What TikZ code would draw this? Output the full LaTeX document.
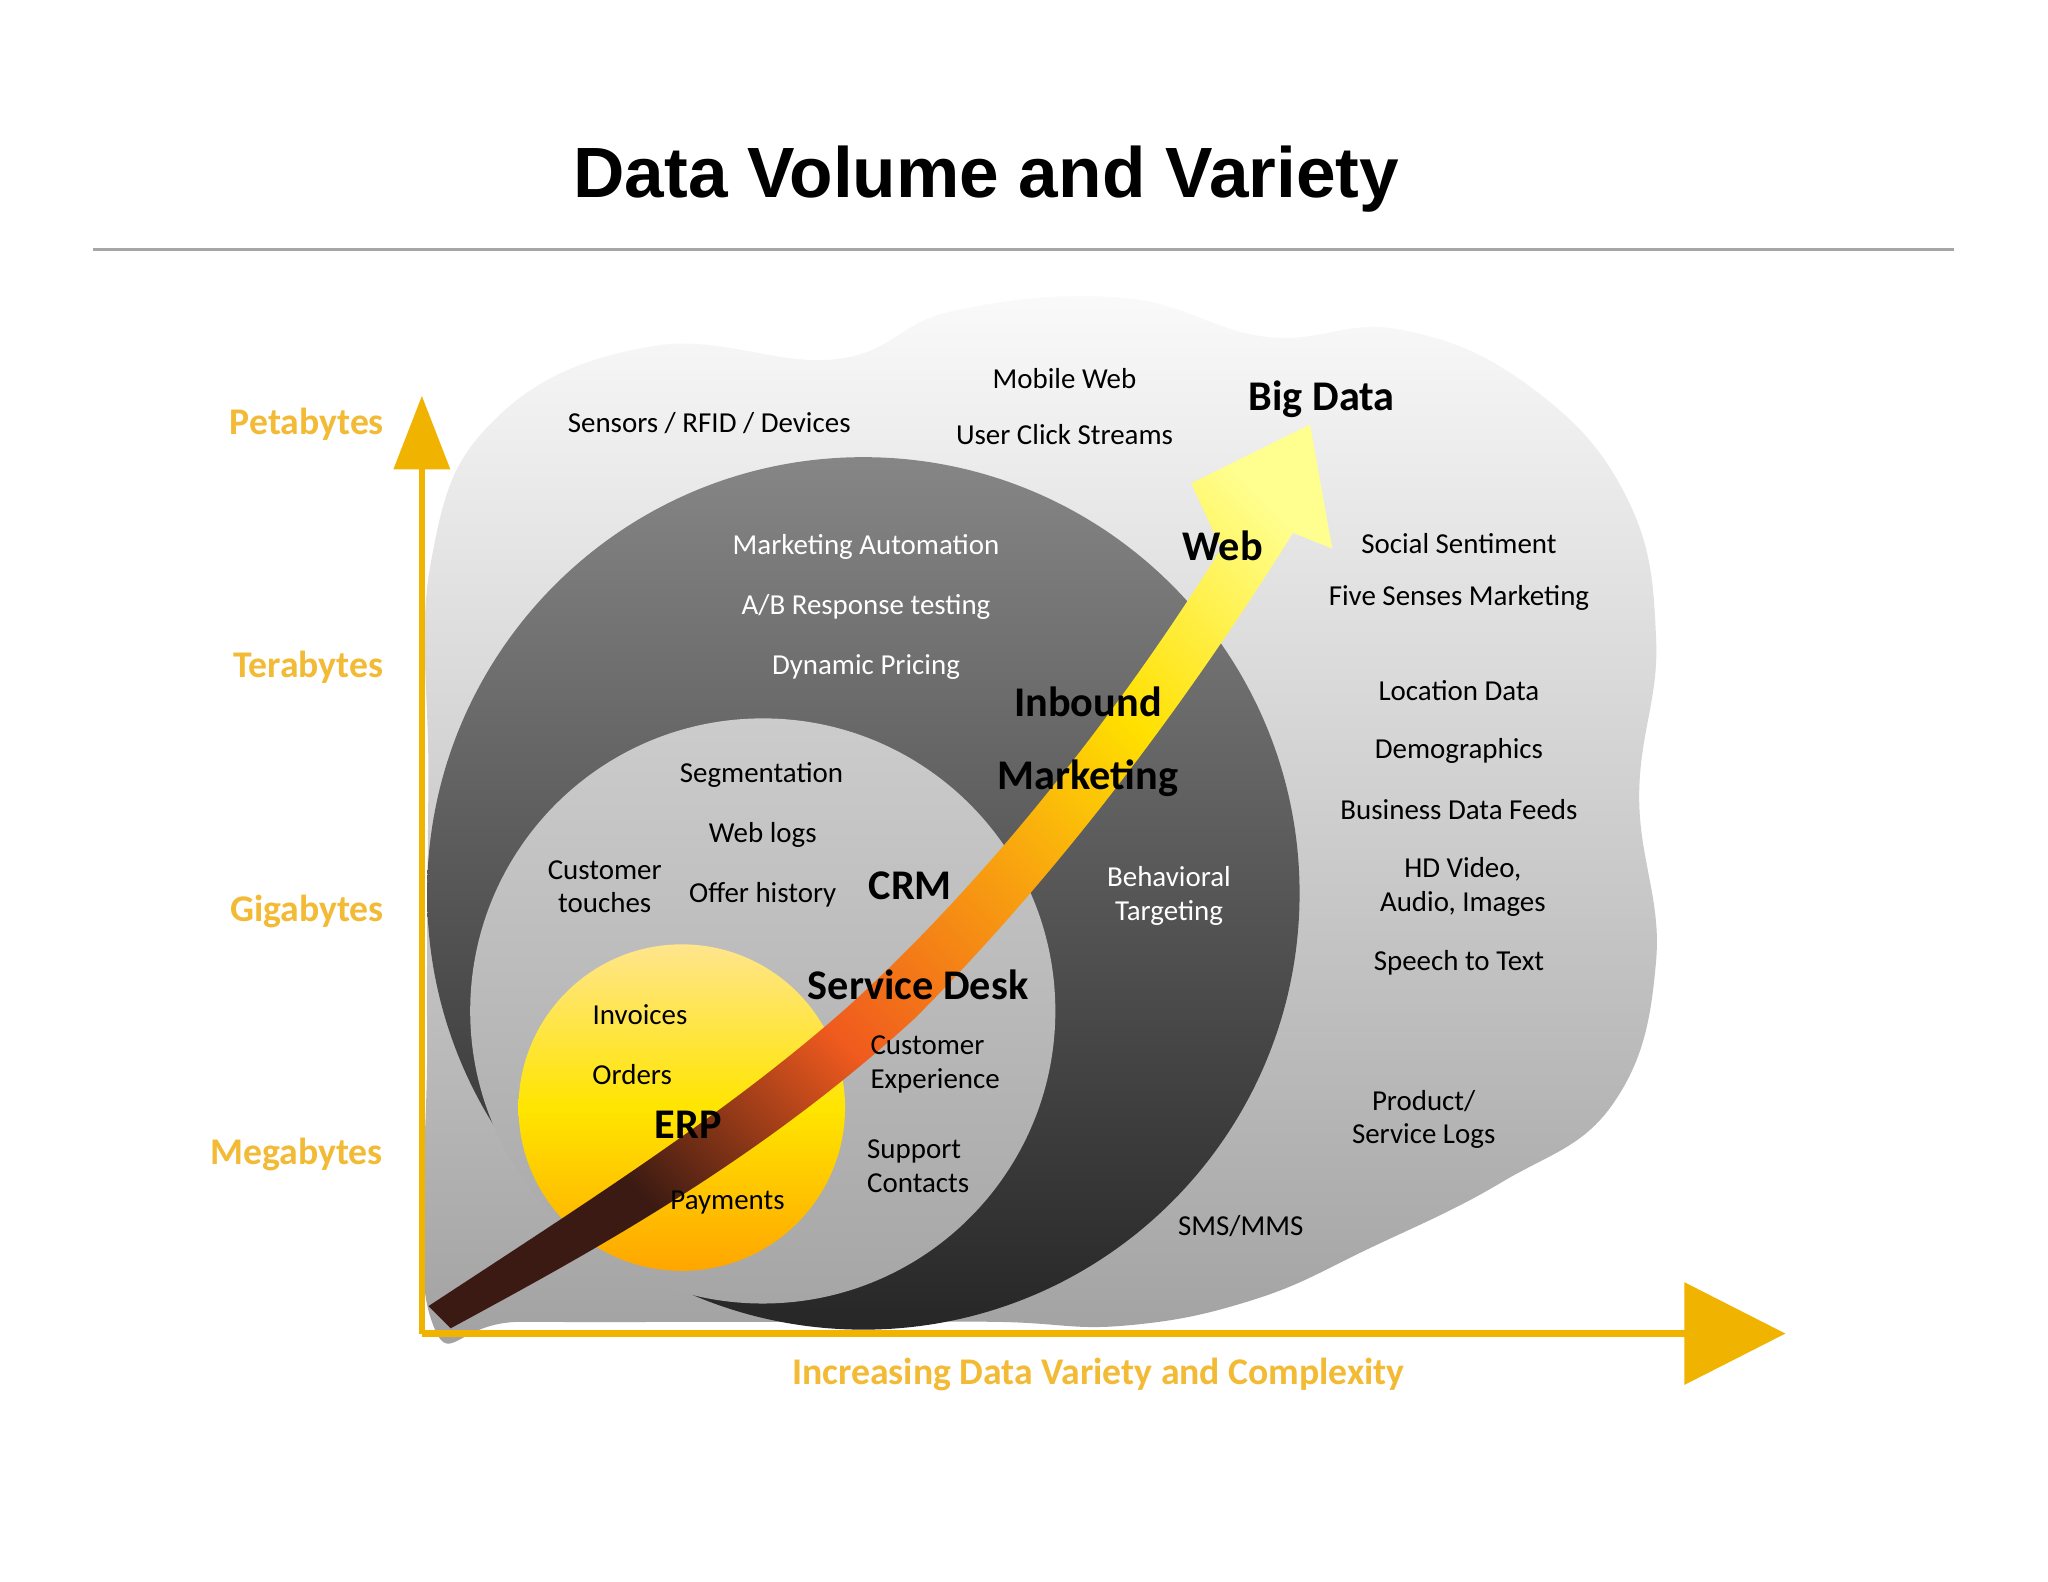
\documentclass[tikz,border=0pt]{standalone}
\usepackage{fontspec}
\setmainfont{Carlito}
\newfontfamily\titlefont{Liberation Sans}
\usetikzlibrary{arrows.meta}
\definecolor{axy}{HTML}{F0B400}
\definecolor{laby}{HTML}{F2BA35}
\definecolor{arrdark}{HTML}{3A1A12}
\definecolor{arrorange}{HTML}{F05A1E}
\definecolor{arrorange2}{HTML}{F8A010}
\definecolor{arryel}{HTML}{FFE000}
\definecolor{arrlight}{HTML}{FFFF90}
\pgfdeclarehorizontalshading{arrowsh}{100bp}{color(0bp)=(arrdark); color(28bp)=(arrdark); color(42bp)=(arrorange); color(55bp)=(arrorange2); color(66bp)=(arryel); color(80bp)=(arrlight); color(100bp)=(arrlight)}
\tikzset{
 txt/.style={font=\fontsize{6.3}{7.3}\selectfont, align=center, inner sep=0pt},
 wtxt/.style={txt, text=white},
 big/.style={font=\bfseries\fontsize{9.2}{10}\selectfont, inner sep=0pt},
 ylab/.style={font=\bfseries\fontsize{8.2}{9}\selectfont, text=laby, inner sep=0pt},
}
\begin{document}
\begin{tikzpicture}[x=0.01cm,y=-0.01cm]
\useasboundingbox[fill=white] (0,0) rectangle (1568,1211);
\node[font=\titlefont\bfseries\fontsize{15.5}{17}\selectfont, inner sep=0pt] (title) at (755,137) {Data Volume and Variety};
\coordinate (la) at (71,191); \coordinate (lb) at (1496,191);
\draw[gray!70, line width=0.5pt] (la) -- (lb);
% cloud
\shade[top color=white!96!gray, bottom color=gray!75] plot[smooth cycle, tension=0.7] coordinates {(330,430) (380,320) (500,265) (640,275) (730,238) (860,228) (970,258) (1070,252) (1170,295) (1245,380) (1268,490) (1255,610) (1268,735) (1235,845) (1150,905) (1050,955) (960,995) (860,1015) (760,1012) (600,1012) (400,1012) (330,1010) (327,800) (328,600)};
% circles
\shade[top color=gray!95!white, bottom color=black!85] (661,684) circle (334);
\shade[top color=gray!40, bottom color=gray!70] (584,774) circle (224);
\shade[top color=yellow!55!orange!45, bottom color=orange!70!yellow, middle color=yellow!80!orange] (522,848) circle (125);
% arrow
\shade[shading=arrowsh, shading angle=45] (328,1000) .. controls (450,920) and (560,850) .. (650,770) .. controls (760,670) and (860,540) .. (935,420) -- (912,370) -- (1003,325) -- (1020,420) -- (990,408) .. controls (920,520) and (820,660) .. (700,780) .. controls (580,890) and (450,960) .. (345,1017) -- cycle;
% axes
\coordinate (o) at (323,1021); \coordinate (yt) at (323,303); \coordinate (xt) at (1367,1021);
\draw[axy, line width=1.4pt, -{Triangle[length=16,width=12]}] (o) -- (yt);
\draw[axy, line width=1.4pt, -{Triangle[length=22,width=22]}] (o) -- (xt);
\node[ylab] (pb) at (235,325) {Petabytes};
\node[ylab] (tb) at (236,511) {Terabytes};
\node[ylab] (gb) at (235,698) {Gigabytes};
\node[ylab] (mb) at (227,884) {Megabytes};
\node[ylab] (xl) at (841,1052) {Increasing Data Variety and Complexity};
% big labels
\node[big] (bd) at (1012,306) {Big Data};
\node[big] (web) at (936,418) {Web};
\node[big] (inb) at (833,537) {Inbound};
\node[big] (mkt) at (833,596) {Marketing};
\node[big] (crm) at (697,678) {CRM};
\node[big] (sd) at (703,754) {Service Desk};
\node[big] (erp) at (527,861) {ERP};
% white texts
\node[wtxt] (ma) at (663,419) {Marketing Automation};
\node[wtxt] (ab) at (663,465) {A/B Response testing};
\node[wtxt] (dp) at (663,511) {Dynamic Pricing};
\node[wtxt] (bt) at (895,686) {Behavioral\\Targeting};
% medium circle
\node[txt] (seg) at (583,593) {Segmentation};
\node[txt] (wl) at (584,639) {Web logs};
\node[txt] (oh) at (584,685) {Offer history};
\node[txt] (ct) at (463,679) {Customer\\touches};
\node[txt, align=left] (ce) at (716,815) {Customer\\Experience};
\node[txt, align=left] (sc) at (703,893) {Support\\Contacts};
% erp
\node[txt] (inv) at (490,777) {Invoices};
\node[txt] (ord) at (484,823) {Orders};
\node[txt] (pay) at (557,921) {Payments};
% outside
\node[txt] (mw) at (815,290) {Mobile Web};
\node[txt] (ucs) at (815,333) {User Click Streams};
\node[txt] (srd) at (543,324) {Sensors / RFID / Devices};
\node[txt] (ss) at (1117,416) {Social Sentiment};
\node[txt] (fsm) at (1117,458) {Five Senses Marketing};
\node[txt] (ld) at (1117,529) {Location Data};
\node[txt] (dem) at (1117,575) {Demographics};
\node[txt] (bdf) at (1117,620) {Business Data Feeds};
\node[txt] (hd) at (1120,679) {HD Video,\\Audio, Images};
\node[txt] (stt) at (1117,737) {Speech to Text};
\node[txt] (psl) at (1090,857) {Product/\\Service Logs};
\node[txt] (sms) at (950,939) {SMS/MMS};
\end{tikzpicture}
\end{document}
